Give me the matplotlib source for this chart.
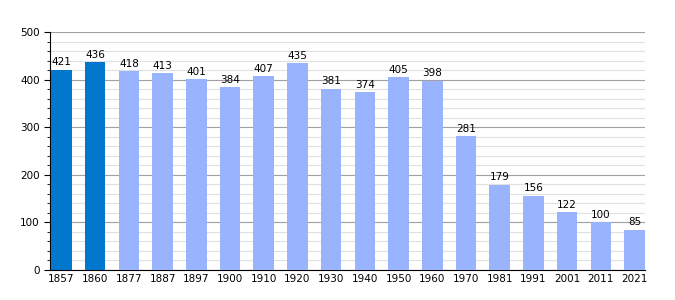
import matplotlib.pyplot as plt
from matplotlib.ticker import MultipleLocator

years = ['1857', '1860', '1877', '1887', '1897', '1900', '1910', '1920', '1930',
         '1940', '1950', '1960', '1970', '1981', '1991', '2001', '2011', '2021']
pop = [421, 436, 418, 413, 401, 384, 407, 435, 381, 374, 405, 398, 281, 179, 156, 122, 100, 85]
dark = ['1857', '1860']

colors = ['#0077cc' if y in dark else '#99b3ff' for y in years]

fig = plt.figure(figsize=(6.75, 3.0), dpi=100)
ax = fig.add_axes([50/675, 30/300, 595/675, 238/300])

x = list(range(len(years)))
bars = ax.bar(x, pop, width=0.61, color=colors, zorder=3)
for xi, v in zip(x, pop):
    ax.text(xi, v + 5, str(v), ha='center', va='bottom', fontsize=7.5, zorder=4)

ax.set_ylim(0, 500)
ax.set_xlim(-0.34, len(years) - 1 + 0.31)
ax.yaxis.set_major_locator(MultipleLocator(100))
ax.yaxis.set_minor_locator(MultipleLocator(20))
ax.grid(which='major', axis='y', color='#a0a0a0', linewidth=0.8, zorder=0)
ax.grid(which='minor', axis='y', color='#e0e0e0', linewidth=0.8, zorder=0)
ax.set_xticks(x)
ax.set_xticklabels(years)
ax.tick_params(axis='x', length=0, labelsize=7.5, pad=3)
ax.tick_params(axis='y', which='major', length=4, labelsize=7.5)
ax.tick_params(axis='y', which='minor', length=2)
ax.spines['top'].set_visible(False)
ax.spines['right'].set_visible(False)

fig.savefig('out.png', dpi=100)
